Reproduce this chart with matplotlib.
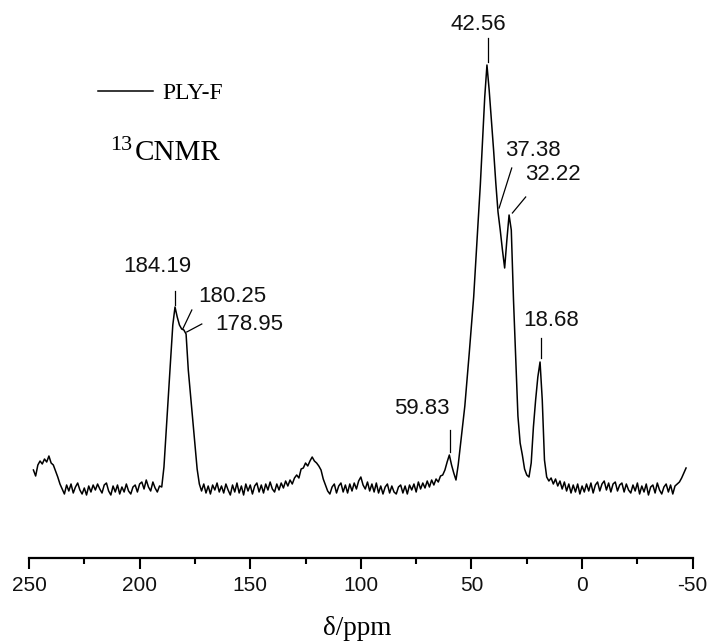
import numpy as np
import matplotlib
matplotlib.use('Agg')
import matplotlib.pyplot as plt

plt.rcParams['axes.unicode_minus'] = False

# 13C NMR spectrum of PLY-F, sampled every 1 ppm from 248 to -47 ppm
ppm = np.arange(248, -48, -1)
intensity = [
    # 248 .. 235
    25, 19, 30, 34, 31, 36, 33, 39, 32, 30, 24, 18, 11, 6,
    # 234 .. 191
    1, 10, 4, 11, 2, 8, 12, 5, 1, 7, 0, 9, 3, 10, 5, 11, 6, 2, 10, 12, 4, 0,
    9, 3, 10, 1, 8, 3, 11, 4, 1, 8, 10, 3, 11, 13, 6, 15, 8, 4, 13, 7, 3, 9,
    # 190 .. 173
    8, 28, 64, 99, 135, 170, 188, 178, 170, 166, 165, 161, 125, 100, 75, 51, 26, 11,
    # 172 .. 134
    4, 11, 2, 9, 1, 10, 5, 12, 3, 9, 2, 11, 5, 0, 10, 3, 12, 2, 9, 0,
    11, 4, 10, 1, 9, 12, 3, 10, 2, 11, 5, 13, 6, 3, 11, 5, 12, 7, 14,
    # 133 .. 115
    9, 15, 11, 17, 20, 17, 26, 27, 32, 29, 34, 38, 34, 32, 29, 25, 16, 10, 4,
    # 114 .. 66
    1, 8, 11, 2, 9, 12, 3, 10, 2, 11, 4, 12, 6, 14, 18, 10, 6, 13, 4, 11, 3, 12, 2, 9, 1,
    8, 11, 2, 9, 3, 1, 8, 10, 2, 9, 1, 10, 5, 11, 3, 13, 6, 12, 7, 14, 8, 15, 10, 16,
    # 65 .. 57
    13, 19, 20, 25, 33, 40, 30, 22, 15,
    # 56 .. 43
    30, 50, 70, 89, 115, 142, 170, 198, 236, 273, 310, 355, 398, 430,
    # 42 .. 25
    405, 375, 345, 312, 283, 265, 245, 227, 255, 280, 265, 195, 137, 79, 52, 40, 26, 20,
    # 24 .. 15
    18, 32, 68, 95, 118, 133, 95, 35, 18, 14,
    # 14 .. -47
    17, 11, 16, 9, 14, 6, 13, 4, 11, 2, 10, 3, 11, 1, 9, 3, 11, 4, 12, 2, 10, 13, 4, 11, 14,
    5, 12, 3, 11, 13, 4, 10, 12, 3, 11, 5, 2, 10, 4, 12, 1, 9, 3, 11, 0, 8, 10, 2, 12, 5,
    1, 8, 11, 3, 10, 1, 9, 11, 13, 17, 22, 27,
]

# peak assignments
peak_labels = ['184.19', '180.25', '178.95', '59.83', '42.56', '37.38', '32.22', '18.68']
peak_ppm = [184.19, 180.25, 178.95, 59.83, 42.56, 37.38, 32.22, 18.68]

# label placement: (text x, text y, tick start x, tick start y, tick end x, tick end y)
label_pos = {
    '184.19': (192.1, 229, 184.19, 204, 184.19, 190),
    '180.25': (158.0, 199, 176.4, 185, 180.5, 166),
    '178.95': (150.5, 171, 171.9, 171, 178.7, 163),
    '59.83': (72.5, 87, 59.83, 65, 59.83, 43),
    '42.56': (47.0, 471, 42.56, 457, 42.56, 433),
    '37.38': (22.4, 345, 31.8, 327, 37.5, 287),
    '32.22': (13.1, 320, 25.5, 298, 31.5, 282),
    '18.68': (13.8, 174, 18.68, 157, 18.68, 137),
}

fig = plt.figure(figsize=(7.08, 6.44), dpi=100)
ax = fig.add_axes([29 / 708, 86 / 644, 663.7 / 708, 558 / 644])

line, = ax.plot(ppm, intensity, color='black', linewidth=1.1, label='PLY-F')

for lab in peak_labels:
    tx, ty, x0, y0, x1, y1 = label_pos[lab]
    ax.plot([x0, x1], [y0, y1], color='black', linewidth=0.9)
    ax.text(tx, ty, lab, ha='center', va='center', fontsize=16,
            family='Liberation Sans', color='#111111', clip_on=False)

ax.set_xlim(250, -50)
ax.set_ylim(-63, 495)
ax.set_xticks(np.arange(250, -51, -50))
ax.set_xticks(np.arange(225, -50, -50), minor=True)
ax.set_yticks([])
for side in ['left', 'right', 'top']:
    ax.spines[side].set_visible(False)
ax.spines['bottom'].set_linewidth(1.6)
ax.tick_params(axis='x', which='major', length=8, width=1.5, pad=5,
               labelsize=15, direction='out')
ax.tick_params(axis='x', which='minor', length=4, width=1.5, direction='out')
for t in ax.get_xticklabels():
    t.set_fontfamily('Liberation Sans')
    t.set_color('#111111')

# legend and title text
ax.legend(handles=[line], loc='center left', bbox_to_anchor=((98 - 29) / 663.7, (558 - 93) / 558),
          frameon=False, borderpad=0, borderaxespad=0, handlelength=2.33, handletextpad=0.38,
          prop={'family': 'Liberation Serif', 'size': 17})
ax.text((110 - 29) / 663.7, (558 - 150) / 558, '13', transform=ax.transAxes,
        family='Liberation Serif', fontsize=16, va='baseline', ha='left')
ax.text((135 - 29) / 663.7, (558 - 160) / 558, 'CNMR', transform=ax.transAxes,
        family='Liberation Serif', fontsize=21, va='baseline', ha='left')

fig.text(356.7 / 708, 9 / 644, 'δ/ppm', ha='center', va='baseline',
         family='Liberation Serif', fontsize=19.5)

fig.savefig('out.png', dpi=100)
